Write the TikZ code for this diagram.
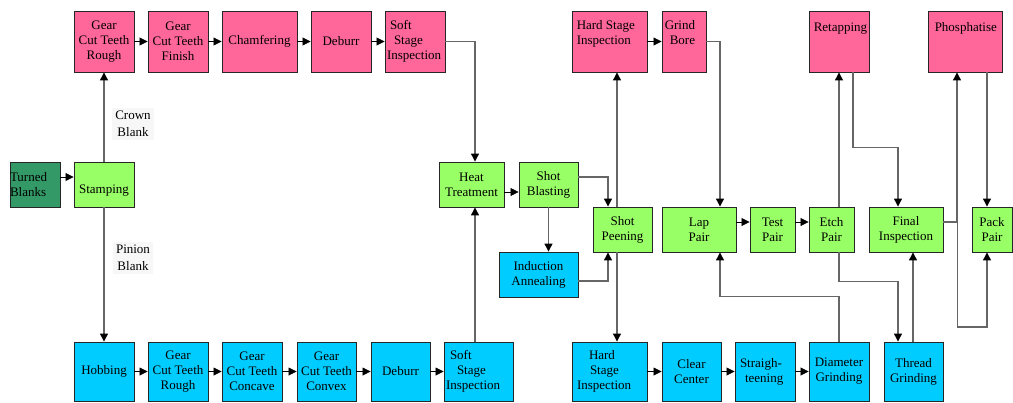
\documentclass[tikz,border=0pt]{standalone}
\usepackage{fontspec}
\setmainfont{Liberation Serif}
\newfontfamily\diafont{Liberation Serif}
\usetikzlibrary{arrows.meta}
\definecolor{pinkc}{HTML}{FF6699}
\definecolor{greenc}{HTML}{99FF66}
\definecolor{cyanc}{HTML}{00CCFF}
\definecolor{dgreenc}{HTML}{339966}
\begin{document}
\begin{tikzpicture}[x=1pt,y=-1pt,
  box/.style={draw=black!85, line width=0.9pt, inner sep=0pt, align=center,
    font=\diafont\fontsize{13}{15}\selectfont},
  pinkbox/.style={box, fill=pinkc},
  greenbox/.style={box, fill=greenc},
  cyanbox/.style={box, fill=cyanc},
  dgbox/.style={box, fill=dgreenc},
  toprow/.style={minimum height=61},
  midrow/.style={minimum height=45},
  botrow/.style={minimum height=59},
  toptext/.style={inner sep=0pt, anchor=north west, align=left,
    font=\diafont\fontsize{13}{15}\selectfont},
  arr/.style={draw=black, line width=0.8pt, -{Triangle[length=8pt,width=8pt]}},
  link/.style={draw=black!60, line width=1.2pt,
    -{Triangle[length=8pt,width=8pt,color=black]}},
  lbl/.style={fill=black!3, inner sep=3pt, align=center,
    font=\diafont\fontsize{13}{16.5}\selectfont}
]
\useasboundingbox (0,0) rectangle (1013,402);

% ---------- top row ----------
\node[pinkbox, toprow, minimum width=60] (gr1) at (104,41.5) {Gear\\Cut Teeth\\Rough};
\node[pinkbox, toprow, minimum width=60] (gf) at (178,41.5) {Gear\\Cut Teeth\\Finish};
\node[pinkbox, toprow, minimum width=75] (cham) at (259.5,41.5) {Chamfering};
\node[pinkbox, toprow, minimum width=60] (deb1) at (341,41.5) {Deburr};
\node[pinkbox, toprow, minimum width=60, text width=56, inner xsep=2pt, align=left] (ssi1) at (415,41.5)
  {\hspace*{3pt}Soft\\\hspace*{7pt}Stage\\Inspection};
\node[pinkbox, toprow, minimum width=75,
  label={[toptext, xshift=5pt, yshift=-10pt]north west:{Hard Stage\\Inspection}}] (hsi1) at (609.5,41.5) {};
\node[pinkbox, toprow, minimum width=44,
  label={[toptext, xshift=3pt, yshift=-10pt]north west:{Grind\\\hspace*{5pt}Bore}}] (gb) at (684,41.5) {};
\node[pinkbox, toprow, minimum width=60,
  label={[toptext, xshift=5pt, yshift=-12pt]north west:{Retapping}}] (ret) at (839,41.5) {};
\node[pinkbox, toprow, minimum width=74,
  label={[toptext, xshift=7pt, yshift=-12pt]north west:{Phosphatise}}] (phos) at (965,41.5) {};

% ---------- middle ----------
\node[dgbox, midrow, minimum width=50, text width=50, align=left] (tb) at (35,184.5) {Turned\\Blanks};
\node[greenbox, midrow, minimum width=60] (st) at (104,184.5) {\rule{0pt}{20pt}Stamping};
\node[greenbox, midrow, minimum width=65] (ht) at (471.5,184.5) {Heat\\Treatment};
\node[greenbox, midrow, minimum width=59] (sb) at (548.5,184.5) {Shot\\Blasting};
\node[cyanbox, midrow, minimum width=79] (ia) at (538.5,274.5) {Induction\\Annealing};
\node[greenbox, midrow, minimum width=59] (sp) at (622.5,229.5) {Shot\\Peening};
\node[greenbox, midrow, minimum width=74] (lp) at (699,229.5) {Lap\\Pair};
\node[greenbox, midrow, minimum width=45] (tp) at (772.5,229.5) {Test\\Pair};
\node[greenbox, midrow, minimum width=45] (ep) at (831.5,229.5) {Etch\\Pair};
\node[greenbox, midrow, minimum width=74] (fi) at (906,229.5) {Final\\Inspection};
\node[greenbox, midrow, minimum width=40] (pp) at (992,229.5) {Pack\\Pair};

% ---------- bottom row ----------
\node[cyanbox, botrow, minimum width=60] (hob) at (104,371.5) {Hobbing};
\node[cyanbox, botrow, minimum width=60] (gr2) at (178,371.5) {Gear\\Cut Teeth\\Rough};
\node[cyanbox, botrow, minimum width=60] (gcc) at (252,371.5) {Gear\\Cut Teeth\\Concave};
\node[cyanbox, botrow, minimum width=59] (gcx) at (326.5,371.5) {Gear\\Cut Teeth\\Convex};
\node[cyanbox, botrow, minimum width=59] (deb2) at (400.5,371.5) {Deburr};
\node[cyanbox, botrow, minimum width=69, text width=65, inner xsep=2pt, align=left] (ssi2) at (478.5,371.5)
  {\hspace*{4pt}Soft\\\hspace*{11pt}Stage\\Inspection};
\node[cyanbox, botrow, minimum width=75, text width=71, inner xsep=2pt, align=left] (hsi2) at (609.5,371.5)
  {\hspace*{15pt}Hard\\\hspace*{16pt}Stage\\\hspace*{3pt}Inspection};
\node[cyanbox, botrow, minimum width=59] (cc) at (691.5,371.5) {Clear\\Center};
\node[cyanbox, botrow, minimum width=60, text width=56, inner xsep=2pt, align=left] (str) at (765,371.5)
  {\hspace*{3pt}Straigh-\\\hspace*{8pt}teening};
\node[cyanbox, botrow, minimum width=60] (dg) at (839,371.5) {Diameter\\Grinding};
\node[cyanbox, botrow, minimum width=59] (tg) at (913.5,371.5) {Thread\\Grinding};

% ---------- labels ----------
\node[lbl] (cb) at (133,124) {Crown\\Blank};
\node[lbl] (pb) at (133,258) {Pinion\\Blank};

% ---------- connectors ----------
\draw[arr] ([yshift=7.5pt]tb.east) -- ([yshift=7.5pt]st.west);
\draw[link] (st.north) -- (gr1.south);
\draw[link] (st.south) -- (hob.north);

\draw[arr] (gr1.east) -- (gf.west);
\draw[arr] (gf.east) -- (cham.west);
\draw[arr] (cham.east) -- (deb1.west);
\draw[arr] (deb1.east) -- (ssi1.west);
\draw[link] (ssi1.east) -| ([xshift=3.5pt]ht.north);

\draw[arr] (hob.east) -- (gr2.west);
\draw[arr] (gr2.east) -- (gcc.west);
\draw[arr] (gcc.east) -- (gcx.west);
\draw[arr] (gcx.east) -- (deb2.west);
\draw[arr] (deb2.east) -- (ssi2.west);
\draw[link] ([xshift=-3.5pt]ssi2.north) -- ([xshift=3.5pt]ht.south);

\draw[arr] ([yshift=-7.5pt]ht.east) -- ([yshift=-7.5pt]sb.west);
\draw[link] ([yshift=7.5pt]sb.east) -| ([xshift=-14.5pt]sp.north);
\draw[link] (sb.south) -- (sb.south |- ia.north);
\draw[link] ([yshift=-6.5pt]ia.east) -| ([xshift=-14.5pt]sp.south);
\draw[link] ([xshift=-5.5pt]sp.north) -- ([xshift=-5.5pt]sp.north |- hsi1.south);
\draw[link] ([xshift=-5.5pt]sp.south) -- ([xshift=-5.5pt]sp.south |- hsi2.north);

\draw[arr] (hsi1.east) -- (gb.west);
\draw[link] (gb.east) -| ([xshift=21pt]lp.north);
\draw[arr] ([yshift=7.5pt]lp.east) -- ([yshift=7.5pt]tp.west);
\draw[arr] ([yshift=7.5pt]tp.east) -- ([yshift=7.5pt]ep.west);
\draw[link] ([xshift=7.5pt]ep.north) -- (ret.south);
\draw[link] ([xshift=14pt]ret.south) -- ++(0,75) -| ([xshift=-8pt]fi.north);
\draw[link] ([xshift=7.5pt]ep.south) -- ++(0,29) -| ([xshift=-15.5pt]tg.north);
\draw[link] ([xshift=-0.5pt]tg.north) -- ([xshift=-0.5pt]tg.north |- fi.south);
\draw[link] ([yshift=7.5pt]fi.east) -| ([xshift=-8pt]phos.south);
\draw[link] ([yshift=7.5pt]fi.east) -- ++(14,0) -- ++(0,105) -| ([xshift=-5pt]pp.south);
\draw[link] ([xshift=22pt]phos.south) -- ([xshift=-5pt]pp.north);

\draw[arr] (hsi2.east) -- (cc.west);
\draw[arr] (cc.east) -- (str.west);
\draw[arr] (str.east) -- (dg.west);
\draw[link] (dg.north) -- ++(0,-45) -| ([xshift=21pt]lp.south);
\end{tikzpicture}
\end{document}
